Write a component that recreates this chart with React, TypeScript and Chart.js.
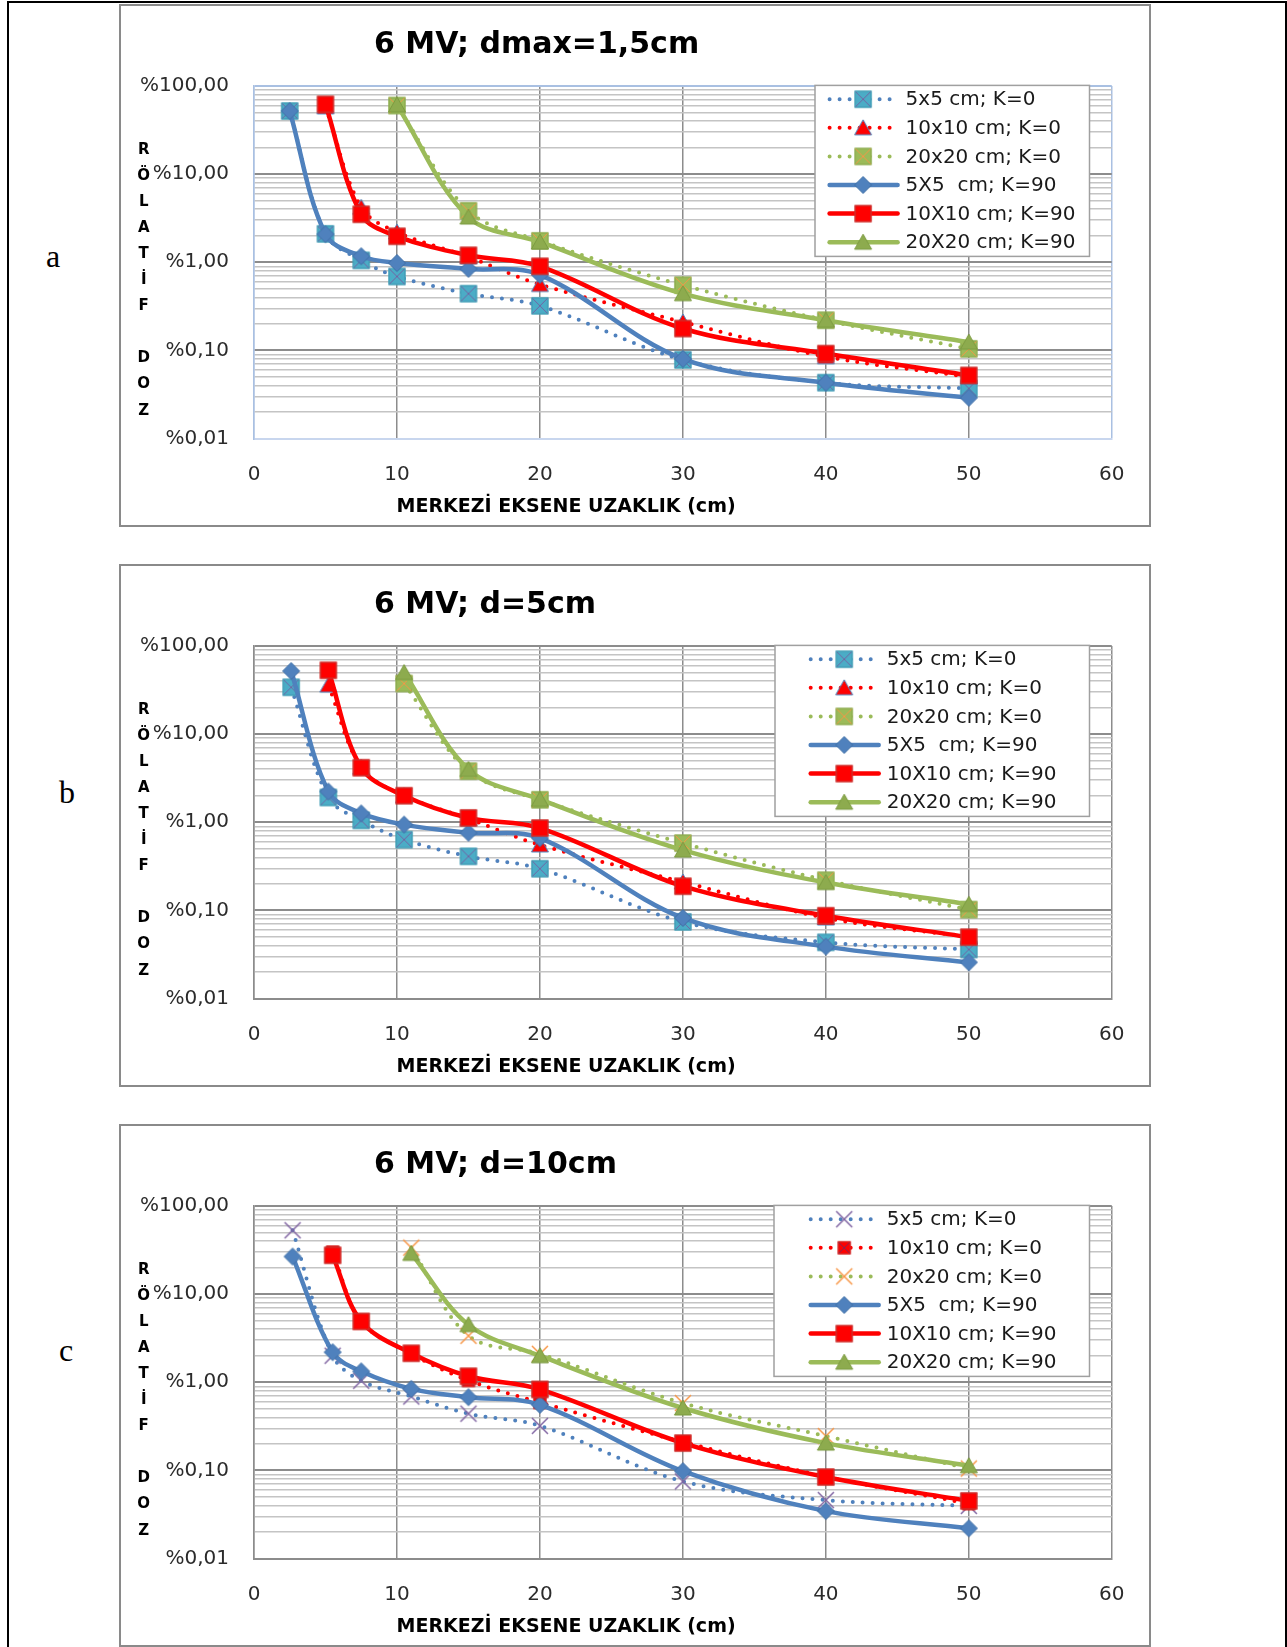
import React, { useEffect, useRef } from 'react';
import { Chart, registerables } from 'chart.js';

Chart.register(...registerables);

// ---------------- shared axis / legend data ----------------
const X_MIN = 0;
const X_MAX = 60;
const X_STEP = 10;
const Y_MAJOR_VALUES = [0.01, 0.1, 1, 10, 100];
const Y_TICK_LABELS = ['%0,01', '%0,10', '%1,00', '%10,00', '%100,00'];
const Y_MINOR_FACTORS = [2, 3, 4, 5, 6, 7, 8, 9];
const SERIES_LABELS = [
  '5x5 cm; K=0',
  '10x10 cm; K=0',
  '20x20 cm; K=0',
  '5X5  cm; K=90',
  '10X10 cm; K=90',
  '20X20 cm; K=90',
];
const X_AXIS_TITLE = 'MERKEZİ EKSENE UZAKLIK (cm)';
const Y_AXIS_LETTERS = ['R', 'Ö', 'L', 'A', 'T', 'İ', 'F', '', 'D', 'O', 'Z'];
const PANEL_LETTERS = ['a', 'b', 'c'];

// ---------------- panel a : 6 MV; dmax=1,5cm ----------------
const A_TITLE = '6 MV; dmax=1,5cm';
const A_X_5 = [2.5, 5, 7.5, 10, 15, 20, 30, 40, 50];
const A_X_10 = [5, 7.5, 10, 15, 20, 30, 40, 50];
const A_X_20 = [10, 15, 20, 30, 40, 50];
const A_5X5_K0 = [52, 2.1, 1.05, 0.69, 0.44, 0.32, 0.078, 0.043, 0.037];
const A_10X10_K0 = [58, 4.2, 2.2, 1.15, 0.56, 0.21, 0.085, 0.05];
const A_20X20_K0 = [60, 3.84, 1.75, 0.55, 0.22, 0.104];
const A_5X5_K90 = [52, 2.08, 1.17, 0.98, 0.84, 0.72, 0.08, 0.043, 0.029];
const A_10X10_K90 = [62, 3.5, 1.97, 1.2, 0.9, 0.177, 0.092, 0.052];
const A_20X20_K90 = [61, 3.26, 1.7, 0.44, 0.22, 0.124];

// ---------------- panel b : 6 MV; d=5cm ----------------
const B_TITLE = '6 MV; d=5cm';
const B_X_5 = [2.6, 5.2, 7.5, 10.5, 15, 20, 30, 40, 50];
const B_X_10 = [5.2, 7.5, 10.5, 15, 20, 30, 40, 50];
const B_X_20 = [10.5, 15, 20, 30, 40, 50];
const B_5X5_K0 = [34, 1.91, 1.05, 0.635, 0.41, 0.297, 0.074, 0.0434, 0.036];
const B_10X10_K0 = [36, 4.2, 2.0, 1.1, 0.553, 0.21, 0.082, 0.05];
const B_20X20_K0 = [37.5, 3.8, 1.8, 0.58, 0.22, 0.102];
const B_5X5_K90 = [52, 2.23, 1.26, 0.94, 0.76, 0.66, 0.082, 0.0388, 0.0257];
const B_10X10_K90 = [53, 4.16, 2.0, 1.12, 0.86, 0.188, 0.087, 0.0497];
const B_20X20_K90 = [50, 3.97, 1.82, 0.483, 0.207, 0.117];

// ---------------- panel c : 6 MV; d=10cm ----------------
const C_TITLE = '6 MV; d=10cm';
const C_X_5 = [2.7, 5.5, 7.5, 11, 15, 20, 30, 40, 50];
const C_X_10 = [5.5, 7.5, 11, 15, 20, 30, 40, 50];
const C_X_20 = [11, 15, 20, 30, 40, 50];
const C_5X5_K0 = [53, 2.0, 1.04, 0.69, 0.44, 0.32, 0.075, 0.046, 0.0395];
const C_10X10_K0 = [30, 4.9, 2.1, 1.05, 0.59, 0.21, 0.085, 0.042];
const C_20X20_K0 = [33.7, 3.37, 2.1, 0.58, 0.245, 0.105];
const C_5X5_K90 = [26.7, 2.19, 1.33, 0.84, 0.676, 0.554, 0.098, 0.0345, 0.022];
const C_10X10_K90 = [27.6, 4.9, 2.13, 1.17, 0.83, 0.204, 0.084, 0.045];
const C_20X20_K90 = [29, 4.5, 2.0, 0.51, 0.204, 0.113];

// ---------------- styling ----------------
const BLUE = '#4F81BD';
const RED = '#FF0000';
const GREEN = '#9BBB59';
const SERIES_COLORS = [BLUE, RED, GREEN, BLUE, RED, GREEN];
const SERIES_DOTTED = [true, true, true, false, false, false];
const FONT = '"DejaVu Sans", sans-serif';

const MARKERS_AB = ['sqXTeal', 'triRed', 'sqXGreen', 'diamond', 'squareRed', 'triGreen'];
const MARKERS_C = ['xPurple', 'sqXRed', 'xOrange', 'diamond', 'squareRed', 'triGreen'];

function makeMarker(kind: string): HTMLCanvasElement {
  const s = 22;
  const c = document.createElement('canvas');
  c.width = s;
  c.height = s;
  const g = c.getContext('2d') as CanvasRenderingContext2D;
  const m = s / 2;
  const sqX = (h: number, fill: string, stroke: string, xcol: string) => {
    g.fillStyle = fill;
    g.fillRect(m - h, m - h, 2 * h, 2 * h);
    g.lineWidth = 1;
    g.strokeStyle = stroke;
    g.strokeRect(m - h + 0.5, m - h + 0.5, 2 * h - 1, 2 * h - 1);
    g.strokeStyle = xcol;
    g.beginPath();
    g.moveTo(m - h + 1, m - h + 1);
    g.lineTo(m + h - 1, m + h - 1);
    g.moveTo(m + h - 1, m - h + 1);
    g.lineTo(m - h + 1, m + h - 1);
    g.stroke();
  };
  const tri = (fill: string, stroke: string) => {
    g.beginPath();
    g.moveTo(m, m - 8);
    g.lineTo(m + 8.5, m + 7);
    g.lineTo(m - 8.5, m + 7);
    g.closePath();
    g.fillStyle = fill;
    g.fill();
    g.lineWidth = 1;
    g.strokeStyle = stroke;
    g.stroke();
  };
  const cross = (h: number, col: string) => {
    g.strokeStyle = col;
    g.lineWidth = 1.5;
    g.beginPath();
    g.moveTo(m - h, m - h);
    g.lineTo(m + h, m + h);
    g.moveTo(m + h, m - h);
    g.lineTo(m - h, m + h);
    g.stroke();
  };
  switch (kind) {
    case 'sqXTeal':
      sqX(8.5, '#4BACC6', '#3d97b0', '#7264a4');
      break;
    case 'sqXGreen':
      sqX(8.5, '#9BBB59', '#86a64a', '#F79646');
      break;
    case 'sqXRed':
      sqX(6.5, RED, '#c0302c', '#7a2a5a');
      break;
    case 'triRed':
      tri(RED, '#4a86c0');
      break;
    case 'triGreen':
      tri('#8DAB4E', '#7b9a40');
      break;
    case 'diamond':
      g.beginPath();
      g.moveTo(m, m - 8.5);
      g.lineTo(m + 8.5, m);
      g.lineTo(m, m + 8.5);
      g.lineTo(m - 8.5, m);
      g.closePath();
      g.fillStyle = BLUE;
      g.fill();
      g.lineWidth = 1;
      g.strokeStyle = '#3f6fa6';
      g.stroke();
      break;
    case 'squareRed':
      g.fillStyle = RED;
      g.fillRect(m - 8.5, m - 8.5, 17, 17);
      g.lineWidth = 1;
      g.strokeStyle = '#b8403c';
      g.strokeRect(m - 8, m - 8, 16, 16);
      break;
    case 'xPurple':
      cross(8, '#8064A2');
      break;
    case 'xOrange':
      cross(8, '#F79646');
      break;
  }
  return c;
}

type PanelCfg = {
  title: string;
  xs: number[][];
  ys: number[][];
  markers: string[];
  blueFrame: boolean;
  legendLeft: number;
  sampleStart: number;
};

const PANELS: PanelCfg[] = [
  {
    title: A_TITLE,
    xs: [A_X_5, A_X_10, A_X_20, A_X_5, A_X_10, A_X_20],
    ys: [A_5X5_K0, A_10X10_K0, A_20X20_K0, A_5X5_K90, A_10X10_K90, A_20X20_K90],
    markers: MARKERS_AB,
    blueFrame: true,
    legendLeft: 694,
    sampleStart: 706.6,
  },
  {
    title: B_TITLE,
    xs: [B_X_5, B_X_10, B_X_20, B_X_5, B_X_10, B_X_20],
    ys: [B_5X5_K0, B_10X10_K0, B_20X20_K0, B_5X5_K90, B_10X10_K90, B_20X20_K90],
    markers: MARKERS_AB,
    blueFrame: false,
    legendLeft: 654,
    sampleStart: 687.7,
  },
  {
    title: C_TITLE,
    xs: [C_X_5, C_X_10, C_X_20, C_X_5, C_X_10, C_X_20],
    ys: [C_5X5_K0, C_10X10_K0, C_20X20_K0, C_5X5_K90, C_10X10_K90, C_20X20_K90],
    markers: MARKERS_C,
    blueFrame: false,
    legendLeft: 653,
    sampleStart: 687.7,
  },
];

const PANEL_TOPS = [4, 564, 1124];
const CANVAS_W = 1028;
const CANVAS_H = 519;
const AREA_LEFT = 133;
const AREA_RIGHT = 992;
const AREA_TOP = 80;
const AREA_BOTTOM = 432.5;
const X_AXIS_H = 60;

function isMajorVal(v: number) {
  const lg = Math.log10(v);
  return Math.abs(lg - Math.round(lg)) < 1e-6;
}

function yTickValues(): number[] {
  const out: number[] = [];
  for (let i = 0; i < Y_MAJOR_VALUES.length; i++) {
    const base = Y_MAJOR_VALUES[i];
    out.push(base);
    if (i < Y_MAJOR_VALUES.length - 1) {
      for (const f of Y_MINOR_FACTORS) out.push(base * f);
    }
  }
  return out;
}

function Panel({ cfg, top }: { cfg: PanelCfg; top: number }) {
  const ref = useRef<HTMLCanvasElement | null>(null);

  useEffect(() => {
    const canvas = ref.current;
    if (!canvas) return;
    const images = cfg.markers.map(makeMarker);
    const frameBlue = '#a9c0e2';
    const majorGrid = '#8c8c8c';
    const minorGrid = '#c4c4c4';

    const datasets = SERIES_LABELS.map((label, i) => ({
      label,
      data: cfg.xs[i].map((x, k) => ({ x, y: cfg.ys[i][k] })),
      borderColor: SERIES_COLORS[i],
      backgroundColor: SERIES_COLORS[i],
      borderWidth: SERIES_DOTTED[i] ? 4 : 4.5,
      borderDash: SERIES_DOTTED[i] ? [0, 10] : [],
      borderCapStyle: 'round' as const,
      borderJoinStyle: 'round' as const,
      tension: 0.35,
      pointStyle: images[i],
      pointRadius: 9,
      pointHoverRadius: 9,
      fill: false,
      order: 5 - i,
    }));

    const decor = {
      id: 'decor',
      afterDatasetsDraw(chart: any) {
        const ctx = chart.ctx as CanvasRenderingContext2D;
        // legend box
        const lx = cfg.legendLeft;
        const ly = 79.4;
        const lw = 968.5 - lx;
        const lh = 171;
        ctx.save();
        ctx.fillStyle = '#ffffff';
        ctx.fillRect(lx, ly, lw, lh);
        ctx.strokeStyle = '#a0a0a0';
        ctx.lineWidth = 1.5;
        ctx.strokeRect(lx, ly, lw, lh);
        SERIES_LABELS.forEach((label, i) => {
          const cy = ly + 13.8 + i * 28.6;
          const sx = cfg.sampleStart;
          ctx.save();
          ctx.strokeStyle = SERIES_COLORS[i];
          ctx.lineCap = 'round';
          if (SERIES_DOTTED[i]) {
            ctx.lineWidth = 4;
            ctx.setLineDash([0, 10]);
          } else {
            ctx.lineWidth = 4.5;
            ctx.setLineDash([]);
          }
          ctx.beginPath();
          ctx.moveTo(sx + 2, cy);
          ctx.lineTo(sx + 70, cy);
          ctx.stroke();
          ctx.restore();
          const img = images[i];
          ctx.drawImage(img, sx + 35.5 - img.width / 2, cy - img.height / 2);
          ctx.fillStyle = '#1a1a1a';
          ctx.font = `20px ${FONT}`;
          ctx.textAlign = 'left';
          ctx.textBaseline = 'middle';
          ctx.fillText(label, sx + 78, cy + 1);
        });
        ctx.restore();
      },
      afterDraw(chart: any) {
        const ctx = chart.ctx as CanvasRenderingContext2D;
        ctx.save();
        // title
        ctx.fillStyle = '#000000';
        ctx.font = `bold 30px ${FONT}`;
        ctx.textAlign = 'left';
        ctx.textBaseline = 'alphabetic';
        ctx.fillText(cfg.title, 253, 47);
        // x axis title
        ctx.font = `bold 19px ${FONT}`;
        ctx.fillText(X_AXIS_TITLE, 275.5, 506);
        // stacked y axis title
        ctx.font = `bold 15px ${FONT}`;
        ctx.textAlign = 'center';
        Y_AXIS_LETTERS.forEach((ch, k) => {
          if (ch) ctx.fillText(ch, 22.7, 142 + k * 26.1 + 5.5);
        });
        ctx.restore();
      },
    };

    const yTicks = yTickValues();

    const chart = new Chart(canvas, {
      type: 'line',
      data: { datasets },
      plugins: [decor],
      options: {
        animation: false,
        responsive: false,
        devicePixelRatio: 1,
        layout: {
          padding: {
            left: 0,
            top: AREA_TOP,
            right: CANVAS_W - AREA_RIGHT,
            bottom: CANVAS_H - AREA_BOTTOM - X_AXIS_H,
          },
        },
        plugins: {
          legend: { display: false },
          title: { display: false },
          tooltip: { enabled: false },
        },
        scales: {
          x: {
            type: 'linear',
            min: X_MIN,
            max: X_MAX,
            afterFit: (s: any) => {
              s.height = X_AXIS_H;
            },
            ticks: {
              stepSize: X_STEP,
              padding: 24.5,
              maxRotation: 0,
              autoSkip: false,
              color: '#2b2b2b',
              font: { family: FONT, size: 20 },
            },
            grid: {
              drawTicks: false,
              color: (c: any) => {
                const v = c.tick ? c.tick.value : 0;
                if (cfg.blueFrame && (v === X_MIN || v === X_MAX)) return frameBlue;
                return majorGrid;
              },
              lineWidth: 1.5,
            },
            border: {
              display: true,
              color: cfg.blueFrame ? '#c8d6ee' : majorGrid,
              width: 2,
            },
          },
          y: {
            type: 'logarithmic',
            min: Y_MAJOR_VALUES[0],
            max: Y_MAJOR_VALUES[Y_MAJOR_VALUES.length - 1],
            afterBuildTicks: (s: any) => {
              s.ticks = yTicks.map((v) => ({ value: v, major: isMajorVal(v) }));
            },
            afterFit: (s: any) => {
              s.width = AREA_LEFT;
            },
            ticks: {
              autoSkip: false,
              padding: 25,
              color: '#2b2b2b',
              font: { family: FONT, size: 20 },
              callback: (v: any) => {
                const idx = Y_MAJOR_VALUES.findIndex((m) => Math.abs(Math.log10(m) - Math.log10(Number(v))) < 1e-6);
                return idx >= 0 ? Y_TICK_LABELS[idx] : '';
              },
            },
            grid: {
              drawTicks: false,
              color: (c: any) => {
                const v = c.tick ? c.tick.value : 1;
                if (cfg.blueFrame && Math.abs(v - 100) < 1e-6) return frameBlue;
                return isMajorVal(v) ? majorGrid : minorGrid;
              },
              lineWidth: (c: any) => {
                const v = c.tick ? c.tick.value : 1;
                return isMajorVal(v) ? 2 : 1.5;
              },
            },
            border: {
              display: true,
              color: cfg.blueFrame ? frameBlue : majorGrid,
              width: 1.5,
            },
          },
        },
      },
    } as any);

    return () => {
      chart.destroy();
    };
  }, [cfg]);

  return (
    <div
      style={{
        position: 'absolute',
        left: 119,
        top,
        width: 1032,
        height: 523,
        border: '2px solid #8a8a8a',
        boxSizing: 'border-box',
        background: '#ffffff',
      }}
    >
      <canvas
        ref={ref}
        width={CANVAS_W}
        height={CANVAS_H}
        style={{ display: 'block', width: CANVAS_W, height: CANVAS_H }}
      />
    </div>
  );
}

const LETTER_POS = [
  { left: 46, top: 240 },
  { left: 59, top: 776 },
  { left: 59, top: 1334 },
];

export default function App() {
  return (
    <div
      style={{
        position: 'absolute',
        left: 0,
        top: 0,
        width: 1287,
        height: 1647,
        overflow: 'hidden',
        background: '#ffffff',
      }}
    >
      <div
        style={{
          position: 'absolute',
          left: 7,
          top: 1,
          width: 1280,
          height: 1700,
          border: '2px solid #000',
          boxSizing: 'border-box',
        }}
      />
      {PANELS.map((p, i) => (
        <Panel key={i} cfg={p} top={PANEL_TOPS[i]} />
      ))}
      {PANEL_LETTERS.map((t, i) => (
        <div
          key={t}
          style={{
            position: 'absolute',
            left: LETTER_POS[i].left,
            top: LETTER_POS[i].top,
            fontFamily: '"Liberation Serif", serif',
            fontSize: 32,
            lineHeight: '32px',
            color: '#000',
          }}
        >
          {t}
        </div>
      ))}
    </div>
  );
}
